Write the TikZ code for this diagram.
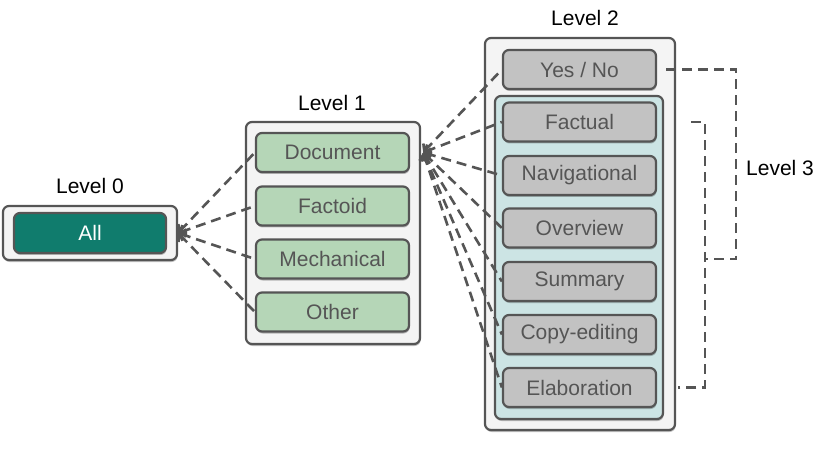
\documentclass[tikz,border=0pt]{standalone}
\usepackage{fontspec}
\setmainfont{Liberation Sans}
\usetikzlibrary{arrows.meta, shadows, positioning}
\definecolor{InkGray}{HTML}{555555}
\definecolor{PanelWhite}{HTML}{F4F4F4}
\definecolor{DeepTeal}{HTML}{107C6D}
\definecolor{SageGreen}{HTML}{B5D6B7}
\definecolor{MistTeal}{HTML}{CCE4E4}
\definecolor{StoneGray}{HTML}{C2C2C2}

\begin{document}
\begin{tikzpicture}[x=1pt, y=-1pt,
  boxshadow/.style={drop shadow={shadow xshift=0.6pt, shadow yshift=-2pt, fill=black, opacity=0.25}},
  panel/.style={draw=InkGray, fill=PanelWhite, line width=2.2pt, rounded corners=6pt, inner sep=0pt, boxshadow},
  item/.style={draw=InkGray, line width=2.2pt, rounded corners=6pt, inner sep=0pt,
    minimum width=153pt, minimum height=39pt, text=InkGray, font=\fontsize{21}{23}\selectfont, boxshadow},
  levellabel/.style={font=\fontsize{21}{23}\selectfont, text=black},
  link/.style={InkGray, line width=2.6pt, dash pattern=on 10pt off 6pt, {Straight Barb[length=5pt,width=12pt]}-},
  bracket/.style={InkGray, line width=2.6pt, dash pattern=on 10pt off 6pt}
]
  \useasboundingbox (0,0) rectangle (830,449);

  % level 0
  \node[panel, minimum width=174pt, minimum height=54pt] (lvl0) at (90,233) {};
  \node[item, fill=DeepTeal, text=white, minimum width=152pt, minimum height=40pt] (all) at (90,233) {All};
  \node[levellabel] (lab0) at (90,186) {Level 0};

  % level 1
  \node[panel, minimum width=174pt, minimum height=222pt] (lvl1) at (333,233) {};
  \foreach \t/\y/\n in {Document/152.5/doc, Factoid/206/fac1, Mechanical/259/mec, Other/312/oth}{
    \node[item, fill=SageGreen] (\n) at (332.5,\y) {\t};
  }
  \node[levellabel] (lab1) at (332,103) {Level 1};

  % level 2
  \node[panel, minimum width=190pt, minimum height=392pt] (lvl2) at (580,234) {};
  \node[panel, fill=MistTeal, minimum width=168pt, minimum height=323pt] (grp) at (579,257.5) {};
  \foreach \t/\y/\n in {{Yes / No}/69.5/yn, Factual/122/fac, Navigational/175.5/nav, Overview/228/ovr,
      Summary/281.5/sum, Copy-editing/334.5/cpe, Elaboration/387.5/ela}{
    \node[item, fill=StoneGray] (\n) at (579.5,\y) {\t};
  }
  \node[levellabel] (lab2) at (585,18) {Level 2};

  % level 3
  \node[levellabel] (lab3) at (780,168) {Level 3};
  \coordinate (outerjoin) at (705,259);

  % links
  \foreach \n in {doc,fac1,mec,oth}{
    \draw[link] (lvl0.east) -- (\n.west);
  }
  \foreach \n in {yn,fac,nav,ovr,sum,cpe,ela}{
    \draw[link] ([xshift=2pt]lvl1.east |- doc.east) -- (\n.west);
  }

  % brackets
  \draw[bracket] ([xshift=9pt]yn.east) -- ++(70,0) |- (outerjoin);
  \draw[bracket] ([xshift=34pt]fac.east) -- (fac.east -| outerjoin) -- (ela.east -| outerjoin) -- ([xshift=21pt]ela.east);
\end{tikzpicture}
\end{document}
